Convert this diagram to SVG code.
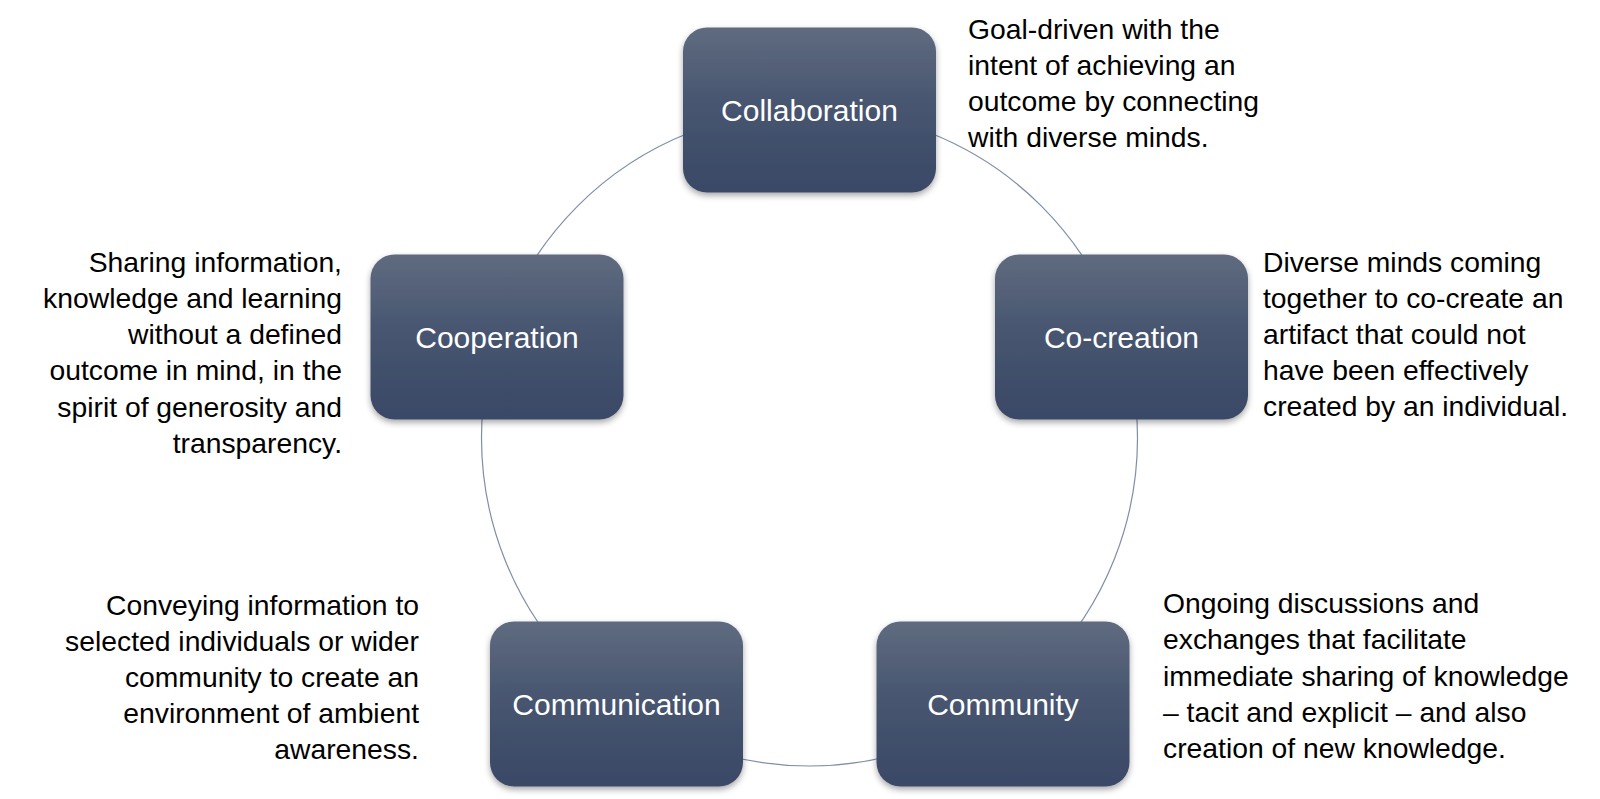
<svg xmlns="http://www.w3.org/2000/svg" width="1600" height="799" viewBox="0 0 1600 799">
  <defs>
    <linearGradient id="boxGrad" x1="0" y1="0" x2="0" y2="1">
      <stop offset="0" stop-color="#5f6b7f"/>
      <stop offset="0.5" stop-color="#46546f"/>
      <stop offset="1" stop-color="#3a4966"/>
    </linearGradient>
    <filter id="shadow" x="-10%" y="-10%" width="120%" height="125%">
      <feDropShadow dx="0" dy="3" stdDeviation="3" flood-color="#000" flood-opacity="0.35"/>
    </filter>
    <style>
      .box { fill: url(#boxGrad); filter: url(#shadow); }
      .label { font-family: "Liberation Sans", Arial, sans-serif; font-size: 30px; fill: #ffffff; text-anchor: middle; }
      .desc { font-family: "Liberation Sans", Arial, sans-serif; font-size: 28.3px; fill: #000000; }
      .right { text-anchor: end; }
      .ring { fill: none; stroke: #7f8ea8; stroke-width: 1.2; }
    </style>
  </defs>
  <rect width="1600" height="799" fill="#ffffff"/>

  <g id="connectors">
    <circle class="ring" cx="809.5" cy="438" r="328"/>
  </g>

  <g id="collaboration">
    <rect class="box" x="683" y="27.5" width="253" height="165" rx="24"/>
    <text class="label" x="809.5" y="120.5">Collaboration</text>
  </g>
  <g id="co-creation">
    <rect class="box" x="995" y="254.5" width="253" height="165" rx="24"/>
    <text class="label" x="1121.5" y="347.5">Co-creation</text>
  </g>
  <g id="community">
    <rect class="box" x="876.5" y="621.5" width="253" height="165" rx="24"/>
    <text class="label" x="1003" y="714.5">Community</text>
  </g>
  <g id="communication">
    <rect class="box" x="490" y="621.5" width="253" height="165" rx="24"/>
    <text class="label" x="616.5" y="714.5">Communication</text>
  </g>
  <g id="cooperation">
    <rect class="box" x="370.5" y="254.5" width="253" height="165" rx="24"/>
    <text class="label" x="497" y="347.5">Cooperation</text>
  </g>

  <g id="desc-collaboration">
    <text class="desc" x="968" y="39">Goal-driven with the</text>
    <text class="desc" x="968" y="75">intent of achieving an</text>
    <text class="desc" x="968" y="111">outcome by connecting</text>
    <text class="desc" x="968" y="147">with diverse minds.</text>
  </g>
  <g id="desc-co-creation">
    <text class="desc" x="1263" y="272">Diverse minds coming</text>
    <text class="desc" x="1263" y="308">together to co-create an</text>
    <text class="desc" x="1263" y="344">artifact that could not</text>
    <text class="desc" x="1263" y="380">have been effectively</text>
    <text class="desc" x="1263" y="416">created by an individual.</text>
  </g>
  <g id="desc-community">
    <text class="desc" x="1163" y="613">Ongoing discussions and</text>
    <text class="desc" x="1163" y="649">exchanges that facilitate</text>
    <text class="desc" x="1163" y="686">immediate sharing of knowledge</text>
    <text class="desc" x="1163" y="722">– tacit and explicit – and also</text>
    <text class="desc" x="1163" y="758">creation of new knowledge.</text>
  </g>
  <g id="desc-communication">
    <text class="desc right" x="419" y="615">Conveying information to</text>
    <text class="desc right" x="419" y="651">selected individuals or wider</text>
    <text class="desc right" x="419" y="687">community to create an</text>
    <text class="desc right" x="419" y="723">environment of ambient</text>
    <text class="desc right" x="419" y="759">awareness.</text>
  </g>
  <g id="desc-cooperation">
    <text class="desc right" x="342" y="272">Sharing information,</text>
    <text class="desc right" x="342" y="308">knowledge and learning</text>
    <text class="desc right" x="342" y="344">without a defined</text>
    <text class="desc right" x="342" y="380">outcome in mind, in the</text>
    <text class="desc right" x="342" y="417">spirit of generosity and</text>
    <text class="desc right" x="342" y="453">transparency.</text>
  </g>
</svg>
